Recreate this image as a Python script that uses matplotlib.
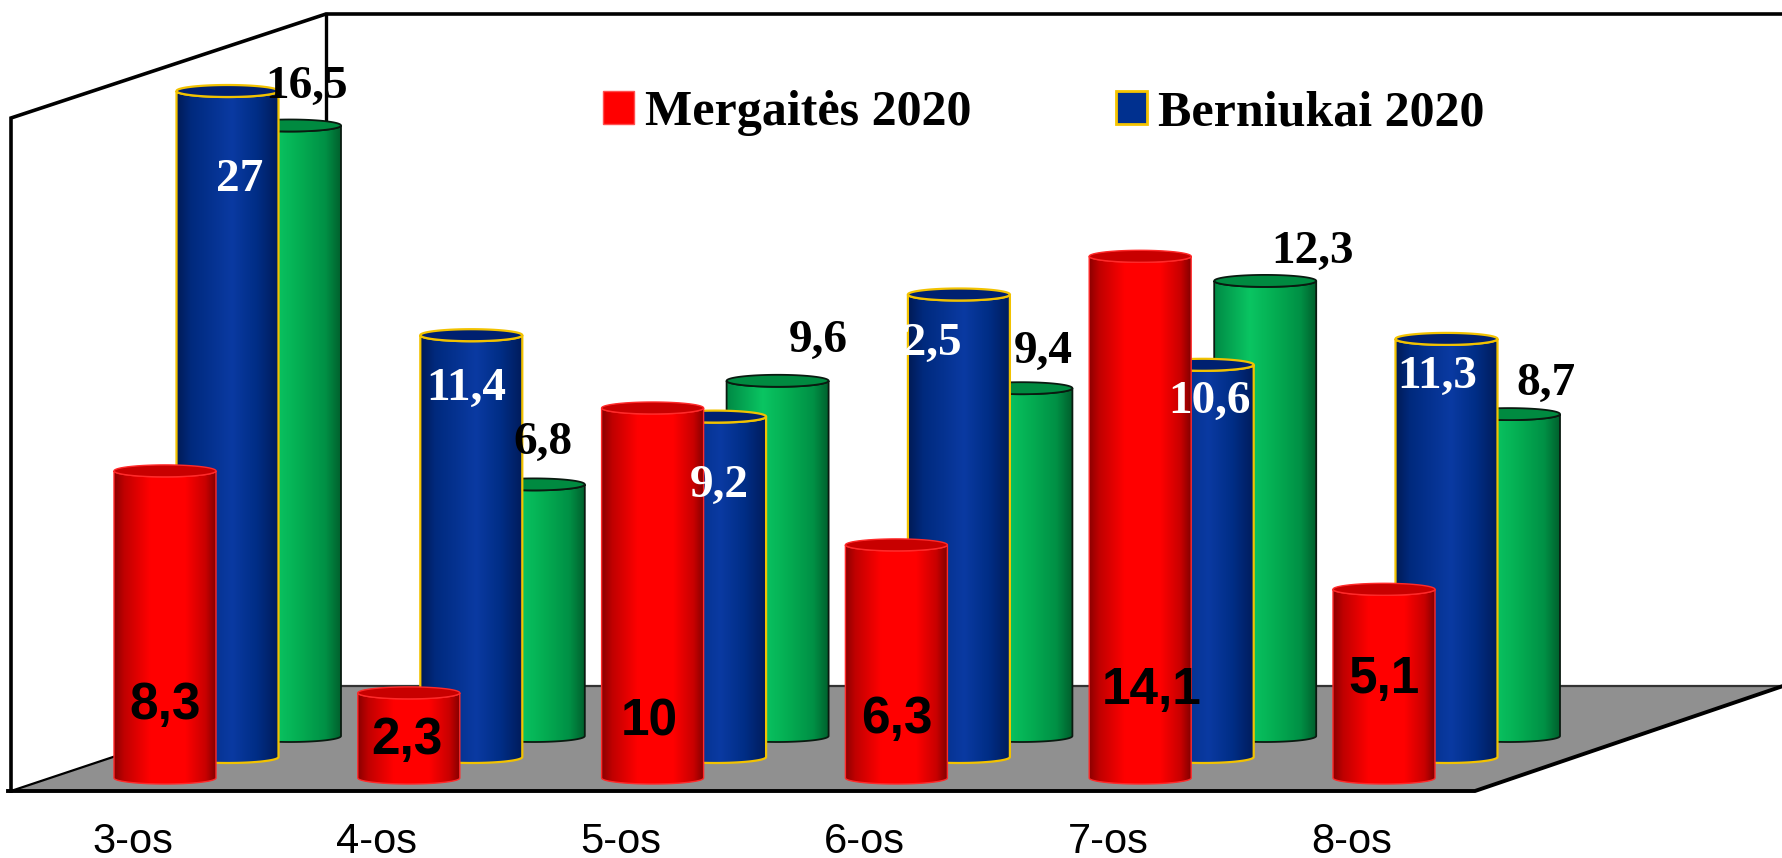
import numpy as np
import matplotlib
matplotlib.use("Agg")
import matplotlib.pyplot as plt
from matplotlib.path import Path
from matplotlib.patches import PathPatch, Patch, Polygon
from matplotlib.colors import LinearSegmentedColormap

categories = ["3-os", "4-os", "5-os", "6-os", "7-os", "8-os"]
mergaites = [8.3, 2.3, 10, 6.3, 14.1, 5.1]
berniukai = [27, 11.4, 9.2, 12.5, 10.6, 11.3]
trecia = [16.5, 6.8, 9.6, 9.4, 12.3, 8.7]
AXIS_MAX = 18

W, H = 1783, 858
PX_X, PX_Y = 243.8, 37.0      # pixels per category / per value unit
ORIGIN_X, ORIGIN_Y = 165, 778  # pixel of front-series first bar centre base


def dx(px):
    return px / PX_X


def dy(px):
    return px / PX_Y


def X(px):
    return (px - ORIGIN_X) / PX_X


def Y(py):
    return (ORIGIN_Y - py) / PX_Y


fig = plt.figure(figsize=(W / 100, H / 100), dpi=100)
ax = fig.add_axes([0, 0, 1, 1])
ax.axis("off")

# walls and floor
floor = [(X(11), Y(791)), (X(1475), Y(791)), (X(1783), Y(686)), (X(326), Y(686))]
ax.add_patch(Polygon(floor, closed=True, fc="#909090", ec="none", zorder=1))
ax.plot([X(11), X(11), X(326), X(1783)], [Y(791), Y(118), Y(14), Y(14)], color="black", lw=2.6, zorder=2,
        solid_joinstyle="miter")
ax.plot([X(326), X(326)], [Y(14), Y(686)], color="black", lw=2.4, zorder=2)
ax.plot([X(326), X(1783)], [Y(686), Y(686)], color="#333333", lw=1.6, zorder=2)
ax.plot([X(8), X(1475), X(1783)], [Y(791), Y(791), Y(686)], color="black", lw=2.8, zorder=2)
ax.plot([X(11), X(326)], [Y(791), Y(686)], color="black", lw=1.6, zorder=2)

A = dx(51)
B = dy(6)


def ellipse_arc(cx, cy, start, stop, n=40):
    t = np.linspace(start, stop, n)
    return np.column_stack([cx + A * np.cos(t), cy + B * np.sin(t)])


def cylinder(cx, base, value, cmap, top_color, edge, lw, z):
    top = base + min(value, AXIS_MAX)
    pts = np.vstack([
        [[cx - A, top]],
        ellipse_arc(cx, base, np.pi, 2 * np.pi),
        [[cx + A, top]],
        ellipse_arc(cx, top, 0, -np.pi),
    ])
    body = Path(pts)
    clip = PathPatch(body, transform=ax.transData, fc="none", ec="none")
    ax.add_patch(clip)
    im = ax.imshow(np.linspace(0, 1, 256)[None, :], cmap=cmap, aspect="auto",
                   extent=(cx - A, cx + A, base - B, top + B), zorder=z, interpolation="bilinear")
    im.set_clip_path(clip)
    ax.add_patch(PathPatch(body, fc="none", ec=edge, lw=lw, zorder=z + 0.1))
    lid = ellipse_arc(cx, top, 0, 2 * np.pi, 80)
    ax.add_patch(Polygon(lid, closed=True, fc=top_color, ec=edge, lw=lw, zorder=z + 0.2))


red_map = LinearSegmentedColormap.from_list("r", [(0, "#8c0000"), (0.1, "#c00000"), (0.35, "#ff0000"),
                                                  (0.7, "#ff0000"), (0.9, "#c80000"), (1, "#850000")])
blue_map = LinearSegmentedColormap.from_list("b", [(0, "#001a55"), (0.15, "#002a7e"), (0.55, "#0a3aa2"),
                                                   (0.8, "#002d85"), (1, "#001c5c")])
green_map = LinearSegmentedColormap.from_list("g", [(0, "#008a45"), (0.35, "#0ac562"), (0.6, "#04ad52"),
                                                    (0.85, "#009045"), (1, "#00602d")])

series_px = [(0, 0), (62.5, 21), (125, 42)]
groups = np.arange(len(categories))

for i, v in zip(groups, trecia):
    cylinder(i + dx(series_px[2][0]), dy(series_px[2][1]), v, green_map, "#008a40", "#0a1a10", 1.3, 3)
for i, v in zip(groups, berniukai):
    cylinder(i + dx(series_px[1][0]), dy(series_px[1][1]), v, blue_map, "#002070", "#f2c200", 1.6, 4)
for i, v in zip(groups, mergaites):
    cylinder(i, 0, v, red_map, "#c80000", "#ff2a2a", 1.0, 5)

# label offsets from bar top, pixels (right, down)
off_red = [(0, 235), (-2, 48), (-3, 314), (0, 175), (11, 434), (0, 90)]
off_blue = [(12, 89), (-5, 54), (4, 69), (-38, 49), (7, 37), (-9, 38)]
off_green = [(17, -39), (9, -41), (41, -40), (22, -36), (47, -29), (37, -30)]


def fmt(v):
    return f"{v:g}".replace(".", ",")


def label(x, y, v, off, **kw):
    ax.annotate(fmt(v), xy=(x, y), xytext=(off[0] * 0.72, -off[1] * 0.72), textcoords="offset points",
                ha="center", va="center", fontweight="bold", zorder=10, **kw)


serif = dict(family="Liberation Serif", fontsize=34)
narrow = dict(family=["Liberation Sans Narrow", "Liberation Sans"], fontsize=37)
for i in groups:
    label(i, mergaites[i], mergaites[i], off_red[i], color="black", **narrow)
    label(i + dx(series_px[1][0]), dy(series_px[1][1]) + min(berniukai[i], AXIS_MAX), berniukai[i],
          off_blue[i], color="white", **serif)
    label(i + dx(series_px[2][0]), dy(series_px[2][1]) + trecia[i], trecia[i], off_green[i], color="black", **serif)

# category labels
for i, c in zip(groups, categories):
    ax.text(i - dx(32), Y(842), c, ha="center", va="center", color="black",
            family=["Liberation Sans Narrow", "Liberation Sans"], fontsize=30)

handles = [Patch(fc="#ff0000", ec="#ff5050", lw=1), Patch(fc="#00308f", ec="#f5c400", lw=2)]
leg = ax.legend(handles, ["Mergaitės 2020", "Berniukai 2020"], ncol=2, frameon=False,
                loc="center left", bbox_to_anchor=(603 / W, 1 - 113 / H), borderaxespad=0, borderpad=0,
                handlelength=0.62, handleheight=0.62, handletextpad=0.22, columnspacing=2.9,
                prop=dict(family="Liberation Serif", weight="bold", size=36))

ax.set_xlim(X(0), X(W))
ax.set_ylim(Y(H), Y(0))
fig.savefig("out.png", dpi=100)
